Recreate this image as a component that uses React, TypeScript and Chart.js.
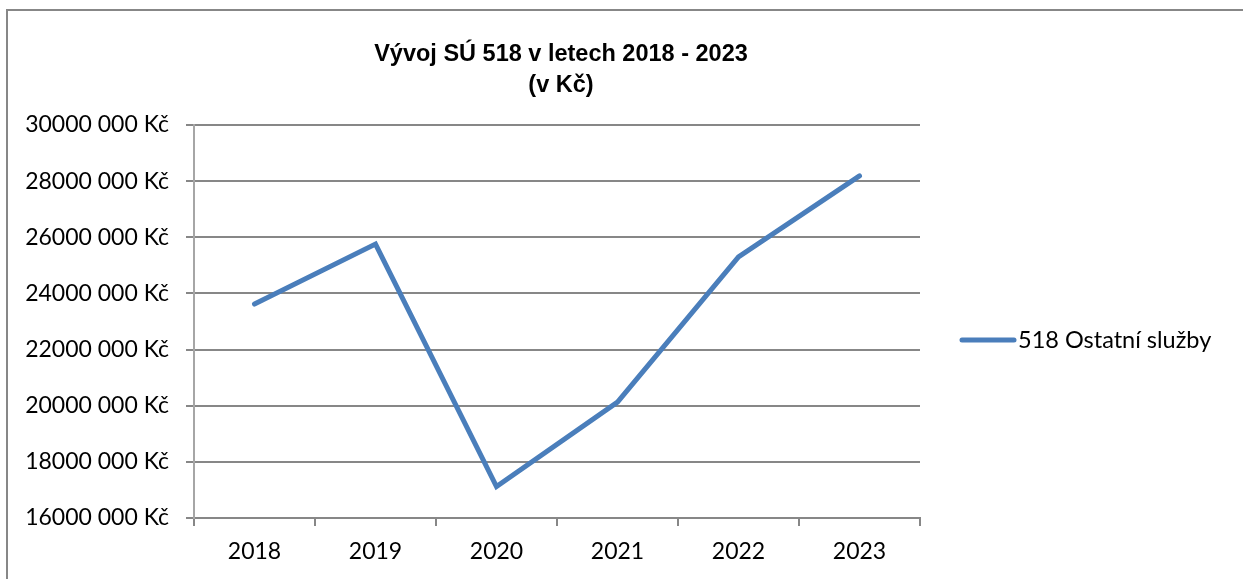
import React, { useEffect, useRef } from "react";
import { Chart, registerables } from "chart.js";

Chart.register(...registerables);

const categories = ["2018", "2019", "2020", "2021", "2022", "2023"];
const seriesName = "518 Ostatní služby";
const seriesValues = [23620000, 25760000, 17120000, 20130000, 25300000, 28190000];
const titleLines = ["Vývoj SÚ 518 v letech 2018 - 2023", "(v Kč)"];
const yMin = 16000000;
const yMax = 30000000;
const yStep = 2000000;

const LINE_COLOR = "#4A7EBB";
const GRID_COLOR = "#878787";
const LABEL_FONT = "Lato";

function formatKc(v: number): string {
  const thousands = Math.floor(v / 1000);
  const rest = String(Math.round(v % 1000)).padStart(3, "0");
  return `${thousands} ${rest} Kč`;
}

const decorPlugin = {
  id: "decor",
  afterDraw(chart: any) {
    const ctx = chart.ctx as CanvasRenderingContext2D;
    ctx.save();
    // outer frame (only left and top edges are visible)
    ctx.strokeStyle = GRID_COLOR;
    ctx.lineWidth = 2;
    ctx.beginPath();
    ctx.moveTo(7, 600);
    ctx.lineTo(7, 10);
    ctx.lineTo(1260, 10);
    ctx.stroke();
    // title
    ctx.fillStyle = "#000";
    ctx.font = "bold 23.5px 'Liberation Sans', Arial, sans-serif";
    ctx.textAlign = "center";
    ctx.textBaseline = "alphabetic";
    const cx = 561;
    ctx.fillText(titleLines[0], cx, 61);
    ctx.fillText(titleLines[1], cx, 92);
    // legend
    const ds = chart.data.datasets[0];
    ctx.strokeStyle = ds.borderColor;
    ctx.lineWidth = 5;
    ctx.lineCap = "round";
    ctx.beginPath();
    ctx.moveTo(962, 340);
    ctx.lineTo(1014, 340);
    ctx.stroke();
    ctx.fillStyle = "#000";
    ctx.font = `23.5px ${LABEL_FONT}`;
    ctx.textAlign = "left";
    ctx.textBaseline = "middle";
    ctx.fillText(ds.label, 1018, 340);
    ctx.restore();
  },
};

export default function App() {
  const ref = useRef<HTMLCanvasElement | null>(null);
  useEffect(() => {
    if (!ref.current) return;
    const chart = new Chart(ref.current, {
      type: "line",
      data: {
        labels: categories,
        datasets: [
          {
            label: seriesName,
            data: seriesValues,
            borderColor: LINE_COLOR,
            backgroundColor: LINE_COLOR,
            borderWidth: 5,
            pointRadius: 0,
            tension: 0,
            borderCapStyle: "round",
            borderJoinStyle: "miter",
          },
        ],
      },
      options: {
        animation: false,
        responsive: false,
        maintainAspectRatio: false,
        layout: { padding: { left: 0, right: 323, top: 125, bottom: 0 } },
        plugins: {
          legend: { display: false },
          title: { display: false },
          tooltip: { enabled: false },
        },
        scales: {
          x: {
            offset: true,
            afterFit: (s: any) => {
              s.height = 579 - 518;
            },
            grid: {
              offset: true,
              drawOnChartArea: false,
              drawTicks: true,
              tickLength: 8,
              color: GRID_COLOR,
              lineWidth: 2,
            },
            border: { color: GRID_COLOR, width: 2 },
            ticks: {
              color: "#000",
              font: { family: LABEL_FONT, size: 23 },
              padding: 12,
              maxRotation: 0,
            },
          },
          y: {
            min: yMin,
            max: yMax,
            afterFit: (s: any) => {
              s.width = 194;
            },
            grid: {
              color: GRID_COLOR,
              lineWidth: 2,
              tickLength: 8,
              drawTicks: true,
            },
            border: { color: "#A6A6A6", width: 2 },
            ticks: {
              stepSize: yStep,
              color: "#000",
              font: { family: LABEL_FONT, size: 23 },
              padding: 17,
              callback: (v: any) => formatKc(Number(v)),
            },
          },
        },
      },
      plugins: [decorPlugin],
    });
    return () => chart.destroy();
  }, []);
  return (
    <div style={{ position: "absolute", left: 0, top: 0, width: 1243, height: 579, background: "#fff" }}>
      <canvas ref={ref} width={1243} height={579} style={{ display: "block" }} />
    </div>
  );
}
